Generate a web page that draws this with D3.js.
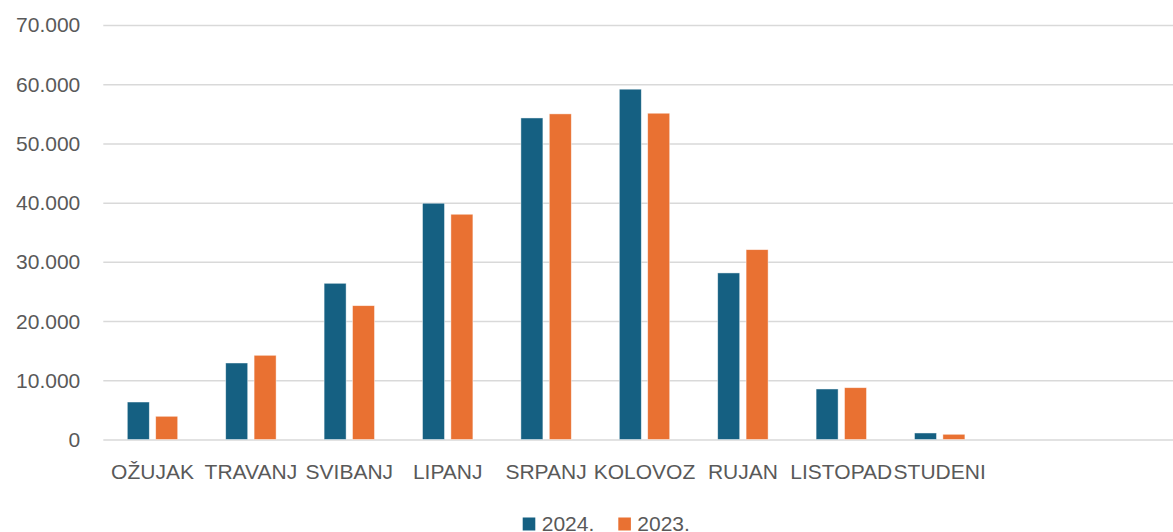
<!DOCTYPE html>
<html>
<head>
<meta charset="utf-8">
<script src="https://cdn.jsdelivr.net/npm/d3@7"></script>
<style>
  html, body { margin: 0; padding: 0; background: #fff; }
  svg text { font-family: "Liberation Sans", Arial, sans-serif; fill: #595959; }
</style>
</head>
<body>
<div id="chart"></div>
<script>
// Data
const months = ['OŽUJAK', 'TRAVANJ', 'SVIBANJ', 'LIPANJ', 'SRPANJ', 'KOLOVOZ', 'RUJAN', 'LISTOPAD', 'STUDENI'];
const seriesNames = ['2024.', '2023.'];
const values2024 = [6330, 12920, 26380, 39900, 54300, 59160, 28130, 8530, 1100];
const values2023 = [3920, 14220, 22600, 38040, 54990, 55100, 32060, 8750, 880];
const yTicks = [0, 10000, 20000, 30000, 40000, 50000, 60000, 70000];
const colors = ['#156082', '#E97132'];

const width = 1173, height = 532;
const plotLeft = 103.3, step = 98.4, plotRight = 1173;
const yBottom = 439.5, yTop = 25;

const svg = d3.select('#chart').append('svg')
    .attr('width', width)
    .attr('height', height);

const x0 = d3.scaleBand()
    .domain(months)
    .range([plotLeft, plotLeft + step * months.length])
    .paddingInner(0.4878)
    .paddingOuter(0.2439);

const x1 = d3.scaleBand()
    .domain(seriesNames)
    .range([0, x0.bandwidth()])
    .paddingInner(0.225);

const y = d3.scaleLinear()
    .domain([0, 70000])
    .range([yBottom, yTop]);

const fmt = v => d3.format(',')(v).replace(/,/g, '.');

// gridlines + y labels
const yAxis = svg.append('g')
    .attr('transform', `translate(${plotLeft},0)`)
    .call(d3.axisLeft(y).tickValues(yTicks).tickSize(-(plotRight - plotLeft)).tickFormat(fmt).tickPadding(23));
yAxis.select('.domain').remove();
yAxis.selectAll('.tick line').attr('stroke', '#d9d9d9').attr('stroke-width', 1.5);
yAxis.selectAll('.tick text')
    .attr('font-size', 21)
    .attr('dy', '0.33em')
    .style('fill', '#595959');

// bars
const rows = months.map((m, i) => ({ month: m, vals: [values2024[i], values2023[i]] }));

const groups = svg.append('g').selectAll('g')
    .data(rows)
    .enter().append('g')
    .attr('transform', d => `translate(${x0(d.month)},0)`);

groups.selectAll('rect')
    .data(d => d.vals.map((v, j) => ({ key: seriesNames[j], value: v, color: colors[j] })))
    .enter().append('rect')
    .attr('x', d => x1(d.key))
    .attr('width', x1.bandwidth())
    .attr('y', d => y(d.value))
    .attr('height', d => y(0) - y(d.value))
    .attr('fill', d => d.color)
    .attr('stroke', '#ffffff')
    .attr('stroke-opacity', 0.6)
    .attr('stroke-width', 0.75);

// category labels
svg.append('g').selectAll('text')
    .data(months)
    .enter().append('text')
    .attr('x', d => x0(d) + x0.bandwidth() / 2)
    .attr('y', 479)
    .attr('text-anchor', 'middle')
    .attr('font-size', 21)
    .text(d => d);

// legend
const legendX = [522.7, 618.3];
const legend = svg.append('g').selectAll('g')
    .data(seriesNames)
    .enter().append('g')
    .attr('transform', (d, i) => `translate(${legendX[i]},0)`);

legend.append('rect')
    .attr('x', 0)
    .attr('y', 517.5)
    .attr('width', 12.6)
    .attr('height', 13)
    .attr('fill', (d, i) => colors[i]);

legend.append('text')
    .attr('x', 19)
    .attr('y', 531)
    .attr('font-size', 21)
    .text(d => d);
</script>
</body>
</html>
